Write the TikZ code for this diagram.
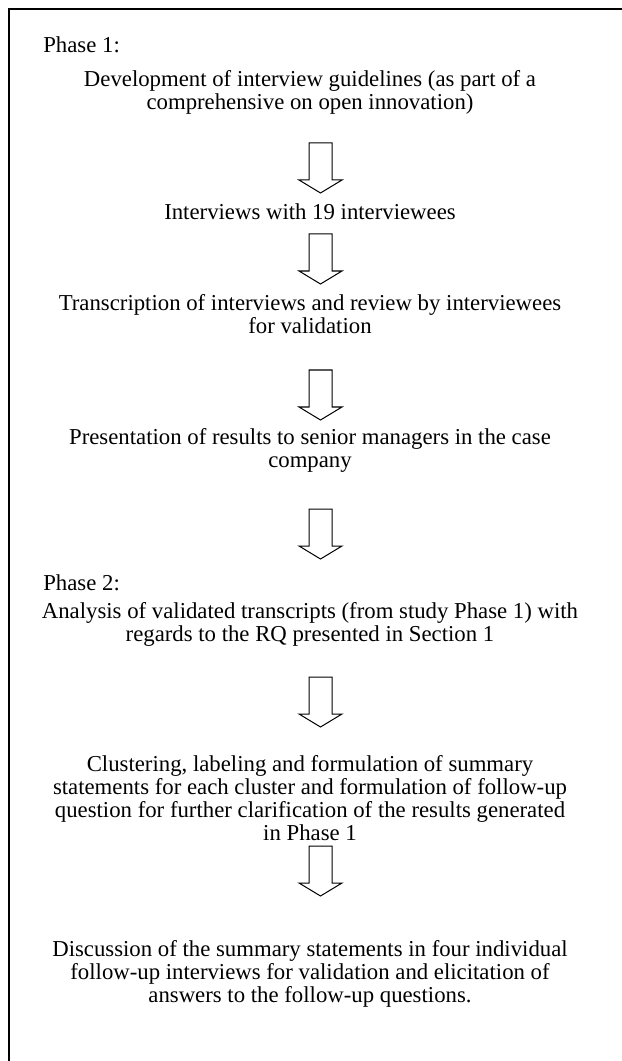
\documentclass[tikz,border=0pt]{standalone}
\usepackage{fontspec}
\setmainfont{Liberation Serif}
\begin{document}
\begin{tikzpicture}[x=0.021cm,y=-0.021cm,
  steptext/.style={align=center,font=\fontsize{13.6}{13.7}\selectfont,inner sep=0pt},
  phasetext/.style={anchor=west,font=\fontsize{13.6}{13.7}\selectfont,inner sep=0pt},
  arrowline/.style={draw=black,line width=0.6pt,line join=miter}]
\def\hollowarrow#1{\draw[arrowline] (#1) ++(-11.5,0) -- ++(23,0) -- ++(0,37) -- ++(10,0)
  -- ++(-21.5,13) -- ++(-21.5,-13) -- ++(10,0) -- cycle;}
\useasboundingbox (0,0) rectangle (621,1061);
\draw[line width=1.7pt,line join=miter] (9,1075) -- (9,9) -- (635,9);

% Phase 1
\node[phasetext] (phase1) at (43,45) {Phase 1:};
\node[steptext] (guide) at (310,92.5) {Development of interview guidelines (as part of a\\comprehensive on open innovation)};
\coordinate (a1) at (320.5,143); \hollowarrow{a1}
\node[steptext] (inter) at (310,212) {Interviews with 19 interviewees};
\coordinate (a2) at (320.5,234); \hollowarrow{a2}
\node[steptext] (trans) at (310,314.5) {Transcription of interviews and review by interviewees\\for validation};
\coordinate (a3) at (320.5,370); \hollowarrow{a3}
\node[steptext] (pres) at (310,450.5) {Presentation of results to senior managers in the case\\company};
\coordinate (a4) at (320.5,509); \hollowarrow{a4}

% Phase 2
\node[phasetext] (phase2) at (43,583) {Phase 2:};
\node[steptext] (analysis) at (310,624.5) {Analysis of validated transcripts (from study Phase 1) with\\regards to the RQ presented in Section 1};
\coordinate (a5) at (320.5,677); \hollowarrow{a5}
\node[steptext] (cluster) at (310,798) {Clustering, labeling and formulation of summary\\statements for each cluster and formulation of follow-up\\question for further clarification of the results generated\\in Phase 1};
\coordinate (a6) at (320.5,846); \hollowarrow{a6}
\node[steptext] (discuss) at (310,974) {Discussion of the summary statements in four individual\\follow-up interviews for validation and elicitation of\\answers to the follow-up questions.};
\end{tikzpicture}
\end{document}
